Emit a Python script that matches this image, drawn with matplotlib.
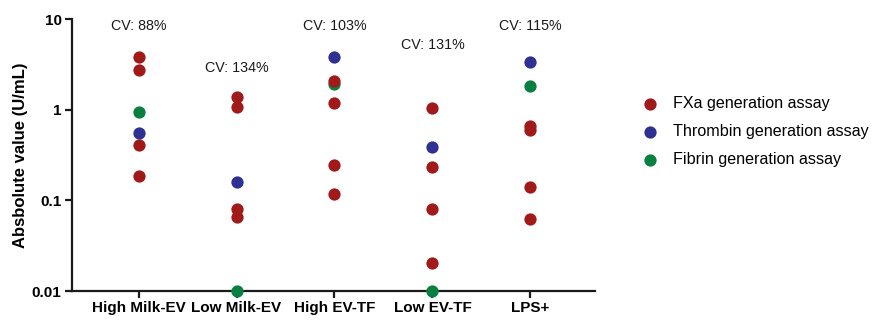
import matplotlib
matplotlib.use("Agg")
import matplotlib.pyplot as plt
import numpy as np

plt.rcParams['font.family'] = ['Liberation Sans', 'DejaVu Sans']

categories = ["High Milk-EV", "Low Milk-EV", "High EV-TF", "Low EV-TF", "LPS+"]
cv_labels = ["CV: 88%", "CV: 134%", "CV: 103%", "CV: 131%", "CV: 115%"]
cv_label_y = [8.4, 2.9, 8.4, 5.2, 8.4]

fxa = [
    [3.84, 2.76, 0.41, 0.187],
    [1.37, 1.08, 0.080, 0.066],
    [2.08, 1.17, 0.245, 0.117],
    [1.04, 0.231, 0.080, 0.0202],
    [0.666, 0.597, 0.141, 0.0618],
]
thrombin = [0.553, 0.160, 3.84, 0.39, 3.38]
fibrin = [0.94, 0.01, 1.92, 0.01, 1.84]

c_red = "#A11A1A"
c_blue = "#2E3192"
c_green = "#0A8040"

fig = plt.figure(figsize=(8.76, 3.2), dpi=100)
ax = fig.add_axes([0.0822, 0.0906, 0.597, 0.85])

x = np.arange(len(categories))
s = 78
h_fib = ax.scatter(x, fibrin, s=s, color=c_green, zorder=3, clip_on=False, linewidths=0)
h_thr = ax.scatter(x, thrombin, s=s, color=c_blue, zorder=4, clip_on=False, linewidths=0)
fx_x = np.concatenate([[i] * len(v) for i, v in enumerate(fxa)])
fx_y = np.concatenate(fxa)
h_fxa = ax.scatter(fx_x, fx_y, s=s, color=c_red, zorder=5, clip_on=False, linewidths=0)

for i, (lab, yy) in enumerate(zip(cv_labels, cv_label_y)):
    ax.text(i, yy, lab, ha='center', va='center', fontsize=10.3, color='#1a1a1a')

ax.set_yscale('log')
ax.set_ylim(0.01, 10)
ax.set_xlim(-0.68, 4.66)
ax.set_yticks([0.01, 0.1, 1, 10])
ax.set_yticklabels(["0.01", "0.1", "1", "10"])
ax.yaxis.set_minor_locator(matplotlib.ticker.NullLocator())
ax.set_xticks(x)
ax.set_xticklabels(categories)
for lbl in ax.get_xticklabels() + ax.get_yticklabels():
    lbl.set_fontweight('bold')
    lbl.set_fontsize(11)
ax.set_ylabel("Absbolute value (U/mL)", fontsize=12, fontweight='bold', labelpad=3)

for sp in ['top', 'right']:
    ax.spines[sp].set_visible(False)
for sp in ['left', 'bottom']:
    ax.spines[sp].set_linewidth(1.6)
    ax.spines[sp].set_color('#1a1a1a')
ax.tick_params(axis='both', which='major', length=5, width=1.6, color='#1a1a1a', direction='out', pad=2.5)

fig.legend([h_fxa, h_thr, h_fib],
           ["FXa generation assay", "Thrombin generation assay", "Fibrin generation assay"],
           loc='upper left', bbox_to_anchor=(0.716, 0.72), frameon=False, fontsize=11.6,
           handletextpad=0.45, labelspacing=0.82, scatterpoints=1, borderaxespad=0)

fig.savefig("out.png", dpi=100)
